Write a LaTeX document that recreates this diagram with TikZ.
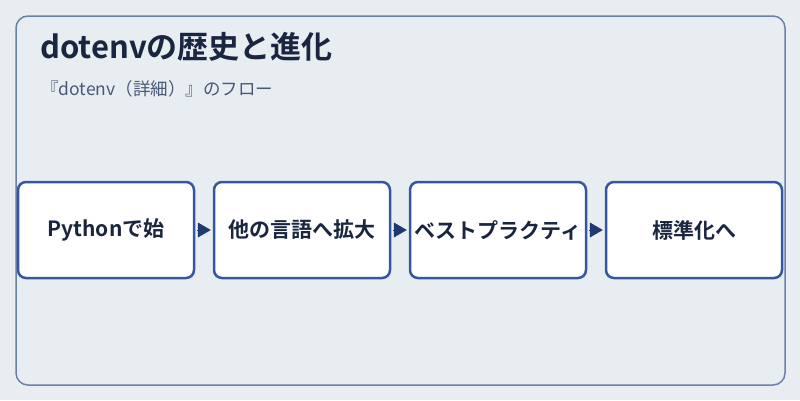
\documentclass[tikz,border=0pt]{standalone}
\usepackage{fontspec}
\setmainfont{Noto Sans CJK JP}[BoldFont={Noto Sans CJK JP Bold}]
\usetikzlibrary{arrows.meta}

\definecolor{bgc}{HTML}{E8EDF2}
\definecolor{framec}{HTML}{6A80A8}
\definecolor{boxline}{HTML}{3457A0}
\definecolor{arrowc}{HTML}{1E3A70}
\definecolor{ink}{HTML}{1A2540}
\definecolor{subink}{HTML}{4A5878}

\begin{document}
\begin{tikzpicture}[x=1pt, y=-1pt, node distance=196pt,
	stage/.style={draw=boxline, line width=2.5pt, fill=white, rounded corners=8pt,
		minimum width=176pt, minimum height=96pt, inner sep=0pt, text=ink,
		font=\fontsize{21}{25}\selectfont\bfseries},
	flow/.style={-{Triangle[length=13pt, width=15pt]}, draw=arrowc, fill=arrowc,
		line width=0.5pt, shorten <=1.5pt, shorten >=2pt}]
	\fill[bgc] (0,0) rectangle (800,400);
	\draw[framec, line width=1.5pt, rounded corners=12pt] (16,16) rectangle (785,385);
	
	\node (title) [anchor=west, inner sep=0pt, text=ink, font=\fontsize{31}{36}\selectfont\bfseries] at (40,47) {dotenvの歴史と進化};
	\node (subtitle) [anchor=west, inner sep=0pt, text=subink, font=\fontsize{17.5}{21}\selectfont] at (41,89) {『dotenv（詳細）』のフロー};
	
	\node (python) [stage] at (106,230) {Pythonで始};
	\node (others) [stage, right of=python] {他の言語へ拡大};
	\node (best) [stage, right of=others] {ベストプラクティ};
	\node (standard) [stage, right of=best] {標準化へ};
	
	\draw[flow] (python) -- (others);
	\draw[flow] (others) -- (best);
	\draw[flow] (best) -- (standard);
\end{tikzpicture}
\end{document}
